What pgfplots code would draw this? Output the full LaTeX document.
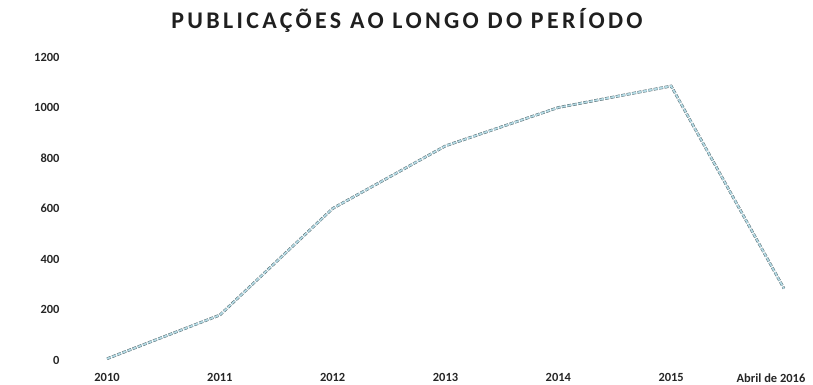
\documentclass[border=0pt]{standalone}
\usepackage{pgfplots}
\pgfplotsset{compat=1.18}
\usepackage{fontspec}
\setmainfont{Carlito}
\definecolor{linefill}{RGB}{180,218,228}
\definecolor{lineedge}{RGB}{80,100,105}
\begin{document}
\begin{tikzpicture}
\path[use as bounding box] (-107bp,-25bp) rectangle (706bp,360bp);
\begin{axis}[
  at={(0,0)}, anchor=south west,
  scale only axis, width=677bp, height=303bp,
  xmin=0, xmax=6, ymin=0, ymax=1200,
  axis line style={draw=none},
  major tick length=0pt,
  xtick={0,...,6},
  xticklabels={2010,2011,2012,2013,2014,2015,{\hspace*{-26bp}Abril de 2016}},
  ytick={0,200,...,1200},
  /pgf/number format/assume math mode=true,
  /pgf/number format/1000 sep={},
  tick label style={font=\fontsize{12.5}{14}\selectfont\bfseries, text=black!85},
  xticklabel style={yshift=-10bp},
  yticklabel style={xshift=-44bp},
  clip=false,
]
\addplot[draw=lineedge, dash pattern=on 4bp off 1.5bp, line width=0.45bp, double=linefill, double distance=1.8bp]
  coordinates {(0,5) (1,178) (2,600) (3,848) (4,1000) (5,1085) (6,283)};
\end{axis}
\node[font=\fontsize{24}{28}\selectfont\bfseries, text=black!88] at (300bp,340bp) {\addfontfeatures{LetterSpace=14}PUBLICAÇÕES AO LONGO DO PERÍODO};
\end{tikzpicture}
\end{document}
